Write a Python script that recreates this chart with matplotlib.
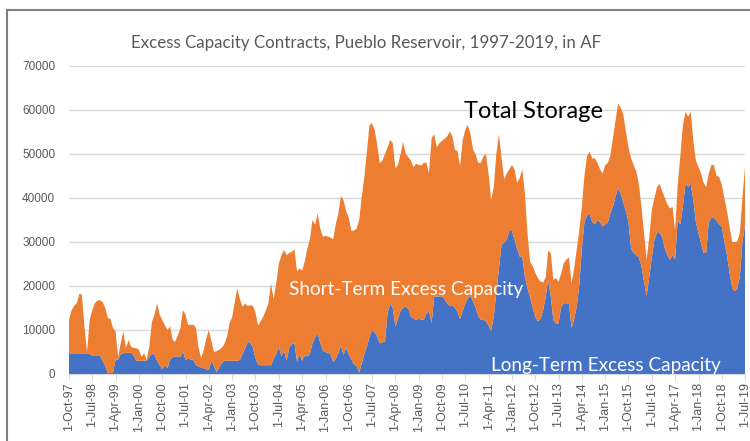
import matplotlib
matplotlib.use("Agg")
import matplotlib.pyplot as plt
from matplotlib.lines import Line2D
import pandas as pd

# monthly values, Oct 1997 .. Jul 2019 (acre-feet)
start_month = "1997-10-01"
total_storage = [
    12300, 14500, 15500, 16100, 18300, 18000, 10700, 5000, 12300, 14500,
    16100, 16700, 16800, 16300, 15000, 12700, 12500, 10500, 9700, 3900,
    7000, 9700, 5900, 7700, 6200, 5900, 5900, 5500, 3900, 4700,
    3200, 6200, 11800, 13400, 16100, 13400, 12300, 11100, 10000, 10800,
    7700, 7300, 8800, 10300, 14500, 13500, 11100, 11200, 11200, 10500,
    6000, 3600, 5500, 8000, 10000, 7500, 5000, 5200, 5500, 6000,
    6800, 8500, 11500, 13000, 16500, 19500, 17000, 15300, 16000, 15500,
    15600, 15500, 14000, 11000, 12000, 13000, 14500, 16100, 20600, 17000,
    20600, 25000, 27000, 28200, 27000, 27500, 27800, 28300, 23300, 24000,
    23500, 25500, 28500, 30500, 35000, 34000, 36500, 33000, 31200, 31400,
    31200, 31000, 30600, 34000, 36500, 40500, 39500, 37000, 35500, 32500,
    32600, 33000, 35000, 40000, 44500, 50200, 56500, 57000, 55500, 52000,
    47900, 48500, 50000, 51500, 53200, 52500, 46800, 47500, 50000, 52800,
    50000, 49300, 48500, 47000, 47800, 47500, 47400, 48000, 48000, 45600,
    53600, 54500, 51500, 52500, 53000, 53500, 54000, 55100, 54000, 51000,
    50700, 47200, 53200, 55500, 56600, 54500, 51000, 49800, 48000, 48000,
    49500, 50000, 45500, 39500, 42500, 50000, 54500, 49000, 44300, 45600,
    46500, 47500, 46500, 43500, 44500, 46500, 41000, 32000, 25500, 24500,
    23000, 21800, 21000, 20800, 22000, 28000, 27500, 21400, 21800, 21000,
    22800, 25200, 26000, 26500, 20600, 24000, 28500, 32500, 38000, 45000,
    49500, 50500, 49000, 49000, 48000, 46500, 45500, 47500, 48000, 49500,
    53500, 57500, 61500, 60500, 59000, 55000, 51500, 49000, 47500, 46000,
    43000, 38000, 32000, 26000, 31000, 37300, 40000, 42500, 43200, 41500,
    40000, 38500, 37600, 38000, 32700, 43000, 49500, 56500, 59600, 58500,
    59600, 53000, 48500, 47000, 45500, 43500, 42500, 45500, 47500, 47500,
    45000, 44800, 43000, 40000, 37000, 33500, 30000, 30000, 30100, 32000,
    40000, 47000,
]
long_term = [
    4700, 4700, 4700, 4700, 4700, 4700, 4700, 4700, 4500, 4100,
    4100, 4100, 4100, 3000, 1800, 200, 200, 200, 3200, 3300,
    4500, 4700, 4800, 4800, 4800, 4200, 3000, 3000, 3000, 3000,
    3000, 3800, 4700, 4400, 3000, 2000, 1100, 2000, 1300, 3300,
    3800, 4000, 4000, 3800, 5200, 3200, 3500, 3300, 3200, 2000,
    1700, 1500, 1300, 1100, 900, 3000, 1800, 400, 1500, 2500,
    3000, 3000, 3000, 3000, 3000, 3000, 3200, 4500, 5800, 7300,
    7100, 6000, 3600, 2200, 2000, 2000, 2000, 2000, 2000, 3500,
    4500, 6200, 4000, 5200, 3000, 6000, 6800, 7000, 2800, 4600,
    3000, 4200, 4000, 4500, 7000, 8300, 9300, 7000, 5300, 5000,
    4800, 4500, 2800, 3400, 4800, 6500, 4300, 6000, 4500, 3300,
    2200, 1900, 300, 2300, 4400, 6200, 8300, 10000, 9500, 8500,
    7000, 7200, 7400, 14000, 16000, 15000, 10800, 12500, 14300, 15100,
    15300, 14800, 13000, 12600, 12200, 12600, 12300, 12300, 13800, 14300,
    11500, 17600, 17600, 17600, 17700, 17000, 16000, 15400, 15700, 15000,
    14200, 12500, 14300, 16000, 17200, 17800, 16500, 15000, 13200, 12300,
    12300, 12000, 11000, 9800, 13000, 18500, 24000, 29500, 29800, 30500,
    32500, 32500, 30500, 28500, 26700, 26700, 22000, 19500, 17500, 15000,
    13000, 12000, 12500, 14500, 17600, 21400, 17600, 12300, 11500, 11500,
    15300, 16100, 16100, 16000, 10500, 12500, 15500, 20000, 28500, 34500,
    36000, 36500, 34500, 34000, 35000, 34500, 33500, 34000, 34500, 36500,
    38000, 40300, 42200, 41000, 39000, 37000, 34500, 28500, 27500, 27000,
    26500, 24500, 21000, 17800, 22000, 26500, 30500, 32200, 32200, 31000,
    28500, 27000, 26000, 27000, 26000, 35000, 34000, 38000, 43300, 42500,
    43300, 39500, 34500, 32000, 29500, 27500, 27500, 34500, 35500, 35500,
    34800, 34000, 33500, 30000, 27000, 23000, 19500, 18800, 19500, 22000,
    30000, 34000,
]
y_ticks = [0, 10000, 20000, 30000, 40000, 50000, 60000, 70000]

months = pd.date_range(start_month, periods=len(total_storage), freq="MS")
short_term = [t - l for t, l in zip(total_storage, long_term)]
tick_dates = pd.date_range(start_month, months[-1], freq="9MS")

BLUE, ORANGE, GREY, GRID = "#4472c4", "#ed7d31", "#595959", "#d9d9d9"

W, H = 750, 441
fig = plt.figure(figsize=(7.5, 4.41), dpi=100, facecolor="white")
ax = fig.add_axes([69 / W, 1 - 374 / H, 676 / W, 308 / H])

ax.stackplot(months, long_term, short_term, colors=[BLUE, ORANGE], linewidth=0)

ax.set_xlim(months[0], months[-1])
ax.set_ylim(0, 70000)
ax.set_yticks(y_ticks)
ax.set_yticklabels([str(v) for v in y_ticks], fontsize=8.5, color=GREY, family="Liberation Sans")
ax.grid(axis="y", color=GRID, lw=1.0)
ax.set_axisbelow(True)

ax.set_xticks(tick_dates)
ax.set_xticklabels([f"{d.day}-{d.strftime('%b-%y')}" for d in tick_dates],
                   rotation=90, fontsize=9, color=GREY, family="Liberation Sans")
ax.tick_params(axis="y", length=0, pad=10)
ax.tick_params(axis="x", length=4, color=GRID, pad=2)
for s in ["top", "right", "left"]:
    ax.spines[s].set_visible(False)
ax.spines["bottom"].set_color(GRID)

fig.text(366 / W, 1 - 43 / H, "Excess Capacity Contracts, Pueblo Reservoir, 1997-2019, in AF",
         ha="center", va="center", fontsize=12.2, color=GREY, family="Lato")
fig.text(534 / W, 1 - 112 / H, "Total Storage", ha="center", va="center",
         fontsize=17, color="black", family="Lato")
fig.text(406 / W, 1 - 290 / H, "Short-Term Excess Capacity", ha="center", va="center",
         fontsize=13.7, color="white", family="Lato")
fig.text(606 / W, 1 - 366 / H, "Long-Term Excess Capacity", ha="center", va="center",
         fontsize=13.7, color="white", family="Lato")

# chart frame (cropped on the right and bottom)
fig.add_artist(Line2D([7 / W, 7 / W], [0, 1 - 10 / H], color="#808080", lw=1.5))
fig.add_artist(Line2D([7 / W, 1], [1 - 10 / H, 1 - 10 / H], color="#808080", lw=1.5))

fig.savefig("out.png", dpi=100, facecolor="white")
